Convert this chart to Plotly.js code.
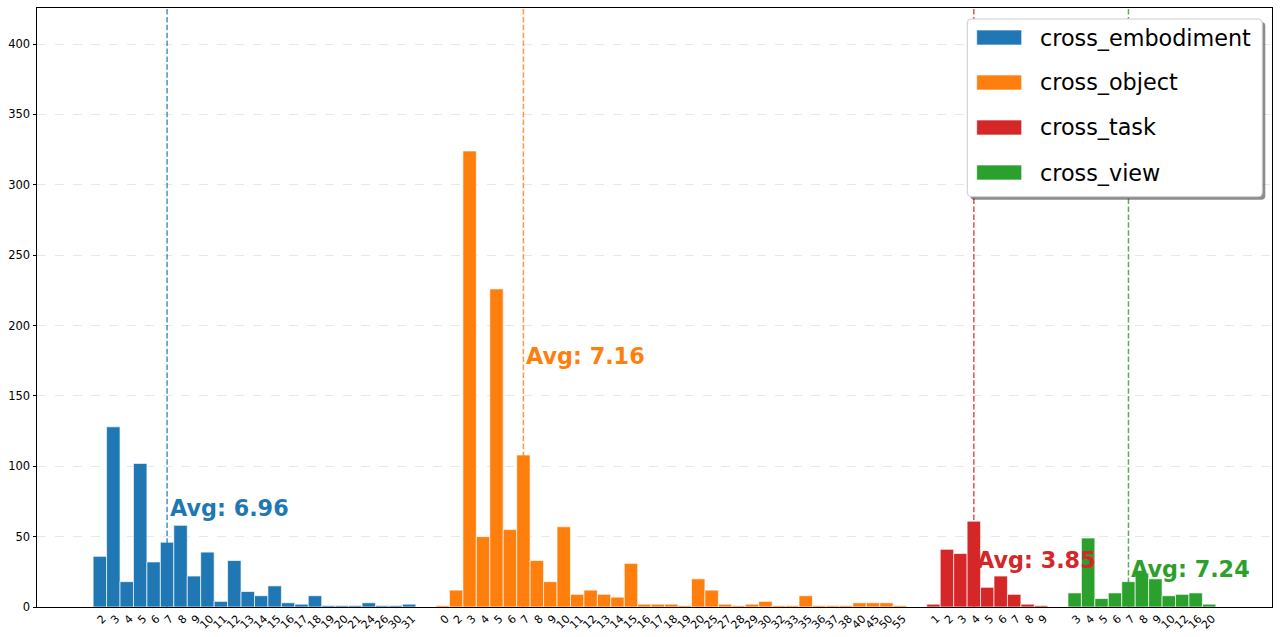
<!DOCTYPE html>
<html>
<head>
<meta charset="utf-8">
<script src="https://cdn.plot.ly/plotly-3.0.1.min.js"></script>
<style>html,body{margin:0;padding:0;background:#fff;}#chart{width:1280px;height:637px;}</style>
</head>
<body>
<div id="chart"></div>
<script>
// ---- data ----
const groupNames = ['cross_embodiment', 'cross_object', 'cross_task', 'cross_view'];
const groupColors = ['#1f77b4', '#ff7f0e', '#d62728', '#2ca02c'];

const embodimentCats = ['2','3','4','5','6','7','8','9','10','11','12','13','14','15','16','17','18','19','20','21','24','26','30','31'];
const embodimentVals = [36,128,18,102,32,46,58,22,39,4,33,11,8,15,3,2,8,1,1,1,3,1,1,2];

const objectCats = ['0','2','3','4','5','6','7','8','9','10','11','12','13','14','15','16','17','18','19','20','25','27','28','29','30','32','33','35','36','37','38','40','45','50','55'];
const objectVals = [1,12,324,50,226,55,108,33,18,57,9,12,9,7,31,2,2,2,1,20,12,2,1,2,4,1,1,8,1,1,1,3,3,3,1];

const taskCats = ['1','2','3','4','5','6','7','8','9'];
const taskVals = [2,41,38,61,14,22,9,2,1];

const viewCats = ['3','4','5','6','7','8','9','10','12','16','20'];
const viewVals = [10,49,6,10,18,24,20,8,9,10,2];

const groupAvgs = [6.96, 7.16, 3.85, 7.24];

const groupCats = [embodimentCats, objectCats, taskCats, viewCats];
const groupVals = [embodimentVals, objectVals, taskVals, viewVals];

// ---- layout helpers ----
const FONT = 'DejaVu Sans, Verdana, sans-serif';
const GAP = 1.5;
const plotL = 37, plotR = 1272, plotT = 8, plotB = 607;
const yMax = 425.6;
const pxX = x => (x - plotL) / (plotR - plotL);
const pxY = y => (plotB - y) / (plotB - plotT);

const traces = [];
const shapes = [];
const annotations = [];
const tickvals = [], ticktext = [];
let start = 0;
let lastPos = 0;

groupCats.forEach((cats, g) => {
  const pos = cats.map((c, i) => start + i);
  pos.forEach((p, i) => { tickvals.push(p); ticktext.push(cats[i]); });
  traces.push({
    type: 'bar', x: pos, y: groupVals[g], width: 1,
    name: groupNames[g], showlegend: false,
    marker: { color: groupColors[g], line: { color: 'rgba(255,255,255,0.65)', width: 1 } },
    hoverinfo: 'x+y'
  });
  // average line at the nearest category
  const target = Math.round(groupAvgs[g]);
  const idx = cats.findIndex(c => Number(c) === target);
  const lx = pos[idx];
  shapes.push({
    type: 'line', xref: 'x', yref: 'paper', x0: lx, x1: lx, y0: 0, y1: 1,
    line: { color: groupColors[g], width: 1.5, dash: '5.5px,2.4px' }, opacity: 0.8, layer: 'above'
  });
  const peak = Math.max(...groupVals[g]);
  annotations.push({
    xref: 'x', yref: 'y', x: lx + 0.05, y: peak * 0.55,
    xanchor: 'left', yanchor: 'middle', showarrow: false,
    text: '<b>Avg: ' + groupAvgs[g].toFixed(2) + '</b>',
    font: { family: FONT, size: 22.3, color: groupColors[g] }
  });
  lastPos = pos[pos.length - 1];
  start += cats.length + GAP;
});

const span = (lastPos + 0.5) - (-0.5);
const xRange = [-0.5 - 0.05 * span, lastPos + 0.5 + 0.05 * span];

// ---- legend drawn as box + swatches + text ----
const lgL = 967.3, lgR = 1262.3, lgT = 19, lgB = 196.7, rad = 4;
function roundRect(l, t, r, b, rr) {
  const X = pxX, Y = pxY;
  return 'M' + X(l + rr) + ',' + Y(t) +
    ' L' + X(r - rr) + ',' + Y(t) +
    ' Q' + X(r) + ',' + Y(t) + ' ' + X(r) + ',' + Y(t + rr) +
    ' L' + X(r) + ',' + Y(b - rr) +
    ' Q' + X(r) + ',' + Y(b) + ' ' + X(r - rr) + ',' + Y(b) +
    ' L' + X(l + rr) + ',' + Y(b) +
    ' Q' + X(l) + ',' + Y(b) + ' ' + X(l) + ',' + Y(b - rr) +
    ' L' + X(l) + ',' + Y(t + rr) +
    ' Q' + X(l) + ',' + Y(t) + ' ' + X(l + rr) + ',' + Y(t) + ' Z';
}
shapes.push({ type: 'path', xref: 'paper', yref: 'paper', path: roundRect(lgL + 3, lgT + 3, lgR + 3, lgB + 3, rad),
  fillcolor: 'rgba(0,0,0,0.45)', line: { width: 0 }, layer: 'above' });
shapes.push({ type: 'path', xref: 'paper', yref: 'paper', path: roundRect(lgL, lgT, lgR, lgB, rad),
  fillcolor: 'rgba(255,255,255,1)', line: { color: '#cccccc', width: 1 }, layer: 'above' });
groupNames.forEach((n, g) => {
  const cy = 37.5 + g * 45;
  shapes.push({ type: 'rect', xref: 'paper', yref: 'paper',
    x0: pxX(976.7), x1: pxX(1021.7), y0: pxY(cy + 7.5), y1: pxY(cy - 7.5),
    fillcolor: groupColors[g], line: { color: 'rgba(255,255,255,0.65)', width: 1 }, layer: 'above' });
  annotations.push({ xref: 'paper', yref: 'paper', x: pxX(1038), y: pxY(cy),
    xanchor: 'left', yanchor: 'middle', showarrow: false, text: n,
    font: { family: FONT, size: 22.3, color: '#000' } });
});

const layout = {
  width: 1280, height: 637,
  margin: { l: plotL, r: 1280 - plotR, t: plotT, b: 637 - plotB },
  paper_bgcolor: '#ffffff', plot_bgcolor: '#ffffff',
  bargap: 0, barmode: 'overlay',
  font: { family: FONT, size: 11, color: '#000' },
  xaxis: {
    range: xRange, tickmode: 'array', tickvals: tickvals, ticktext: ticktext,
    tickangle: -45, tickfont: { family: FONT, size: 11, color: '#000' },
    ticklabelshift: 3,
    ticks: '', showgrid: false, zeroline: false,
    showline: true, mirror: true, linecolor: '#000', linewidth: 1
  },
  yaxis: {
    range: [0, yMax], tick0: 0, dtick: 50, ticks: 'outside', ticklen: 3.5, tickcolor: '#000',
    tickfont: { family: FONT, size: 11.5, color: '#000' },
    showgrid: true, gridcolor: '#e8e8e8', griddash: 'dash', gridwidth: 1,
    zeroline: false, showline: true, mirror: true, linecolor: '#000', linewidth: 1
  },
  shapes: shapes,
  annotations: annotations,
  showlegend: false
};

Plotly.newPlot('chart', traces, layout, { displayModeBar: false, staticPlot: true });
</script>
</body>
</html>
